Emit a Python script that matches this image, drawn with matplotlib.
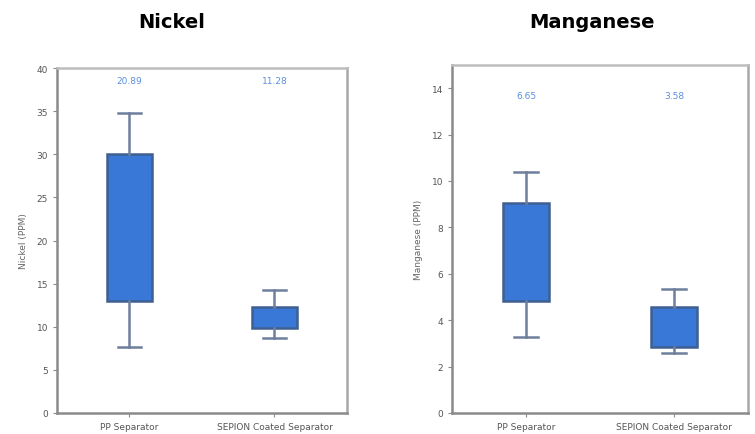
import matplotlib
matplotlib.use("Agg")
import matplotlib.pyplot as plt

# box statistics per metal (PPM)
groups = ["PP Separator", "SEPION Coated Separator"]

nickel_whislo = [7.6, 8.7]
nickel_q1 = [13.0, 9.8]
nickel_q3 = [30.0, 12.25]
nickel_whishi = [34.8, 14.3]
nickel_mean = [20.89, 11.28]

mn_whislo = [3.27, 2.6]
mn_q1 = [4.84, 2.84]
mn_q3 = [9.05, 4.57]
mn_whishi = [10.37, 5.34]
mn_mean = [6.65, 3.58]

BOX_FILL = "#3a78d8"
BOX_EDGE = "#3f5f91"
WHISKER = "#6d7f9c"
SPINE = "#8a8a8a"
LABEL_BLUE = "#5b8fe0"


def draw_panel(ax, title, ylabel, whislo, q1, q3, whishi, means, ylim, yticks, mean_y):
    stats = []
    for i in range(len(groups)):
        stats.append({"whislo": whislo[i], "q1": q1[i], "med": q1[i],
                      "q3": q3[i], "whishi": whishi[i], "fliers": []})
    ax.bxp(stats, positions=[1, 2], widths=0.31, patch_artist=True,
           showfliers=False, manage_ticks=False,
           boxprops=dict(facecolor=BOX_FILL, edgecolor=BOX_EDGE, linewidth=1.8),
           whiskerprops=dict(color=WHISKER, linewidth=1.8),
           capprops=dict(color=WHISKER, linewidth=1.8),
           capwidths=0.16,
           medianprops=dict(linewidth=0))
    for i, m in enumerate(means):
        ax.text(i + 1, mean_y, f"{m:.2f}", ha="center", va="center",
                fontsize=6.5, color=LABEL_BLUE)
    ax.set_xlim(0.5, 2.5)
    ax.set_ylim(*ylim)
    ax.set_yticks(yticks)
    ax.set_xticks([1, 2])
    ax.set_xticklabels(groups, fontsize=6.5, color="#555555")
    ax.tick_params(axis="y", labelsize=6.5, labelcolor="#555555", color=SPINE, length=3)
    ax.tick_params(axis="x", color=SPINE, length=3)
    ax.set_ylabel(ylabel, fontsize=6.5, color="#666666", labelpad=6)
    for s in ax.spines.values():
        s.set_color(SPINE)
        s.set_linewidth(1.8)
    ax.spines["top"].set_color("#bdbdbd")
    ax.spines["right"].set_color("#a8a8a8")


fig = plt.figure(figsize=(7.55, 4.35), dpi=100)
ax1 = fig.add_axes([0.0755, 0.0483, 0.384, 0.793])
ax2 = fig.add_axes([0.5987, 0.0483, 0.392, 0.800])

draw_panel(ax1, "Nickel", "Nickel (PPM)", nickel_whislo, nickel_q1, nickel_q3,
           nickel_whishi, nickel_mean, (0, 40), range(0, 41, 5), 38.5)
draw_panel(ax2, "Manganese", "Manganese (PPM)", mn_whislo, mn_q1, mn_q3,
           mn_whishi, mn_mean, (0, 15), range(0, 15, 2), 13.7)

fig.text(0.228, 0.949, "Nickel", ha="center", va="center",
         fontsize=14, fontweight="bold")
fig.text(0.784, 0.949, "Manganese", ha="center", va="center",
         fontsize=14, fontweight="bold")

fig.savefig("out.png", dpi=100)
